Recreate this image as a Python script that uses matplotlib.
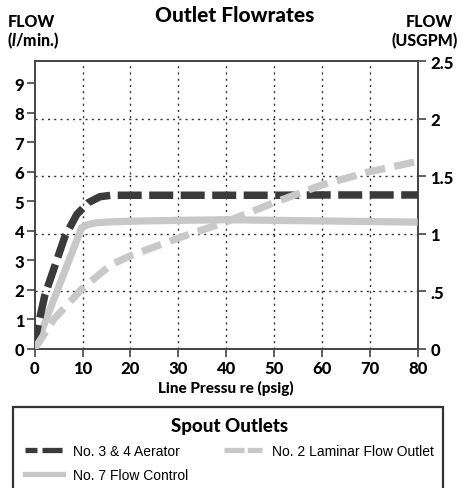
import matplotlib.pyplot as plt
from matplotlib.lines import Line2D
from matplotlib.patches import Rectangle

plt.rcParams['mathtext.fontset'] = 'custom'
plt.rcParams['mathtext.it'] = 'Lato:black:italic'

# line pressure (psig) vs flow (l/min)
aerator_x = [0, 0.4, 2.1, 4.2, 6.3, 8.8, 11.2, 13.6, 16, 20, 30, 40, 50, 60, 70, 80]
aerator_y = [0, 0.55, 1.8, 2.8, 3.8, 4.55, 4.95, 5.15, 5.2, 5.2, 5.2, 5.2, 5.2, 5.21, 5.21, 5.21]

control_x = [0, 9.8, 11, 12.9, 16, 20, 30, 40, 50, 60, 70, 80]
control_y = [0, 4.1, 4.2, 4.27, 4.3, 4.32, 4.35, 4.37, 4.35, 4.33, 4.31, 4.29]

laminar_x = [0, 4, 10, 16, 20, 30, 40, 50, 60, 70, 80]
laminar_y = [0, 1.0, 2.05, 2.85, 3.15, 3.75, 4.3, 4.95, 5.55, 6.0, 6.35]

x_ticks = [0, 10, 20, 30, 40, 50, 60, 70, 80]
lpm_ticks = [0, 1, 2, 3, 4, 5, 6, 7, 8, 9]
gpm_ticks = [0, 0.5, 1, 1.5, 2, 2.5]
gpm_labels = ['0', '.5', '1', '1.5', '2', '2.5']

W, H = 464, 489
dark = '#3a3a3a'
light = '#c8c8c8'
spine_c = '#444444'
bold = {'family': 'Lato', 'weight': 'black'}

fig = plt.figure(figsize=(W / 100, H / 100), dpi=100)
ax = fig.add_axes([34.7 / W, 1 - 349.7 / H, 383 / W, 287.7 / H])
ax2 = ax.twinx()
ax.set_zorder(ax2.get_zorder() + 1)
ax.patch.set_visible(False)

ax.set_xlim(0, 80)
ax.set_ylim(0, 9.75)
ax2.set_ylim(0, 2.5)

dots = (0, (1.5, 3))
ax.set_xticks(x_ticks)
ax.set_yticks(lpm_ticks)
ax2.set_yticks(gpm_ticks)
ax2.set_yticklabels(gpm_labels)
for v in x_ticks[1:-1]:
    ax.axvline(v, color='#333333', lw=1, ls=dots, zorder=1)
for v in gpm_ticks[1:-1]:
    ax2.axhline(v, color='#333333', lw=1, ls=dots, zorder=1)

ax.plot(control_x, control_y, color=light, lw=5.2, solid_capstyle='butt', zorder=3)
ax.plot(aerator_x, aerator_y, color=dark, lw=5.4, dashes=(3.2, 1.0),
        dash_capstyle='butt', zorder=4)
ax.plot(laminar_x, laminar_y, color=light, lw=5.2, dashes=(2.8, 1.3),
        dash_capstyle='butt', zorder=5)

for a in (ax, ax2):
    for s in a.spines.values():
        s.set_color(spine_c)
        s.set_linewidth(1.2)

ax.tick_params(axis='both', direction='out', length=6, width=1.2, color=spine_c)
ax.tick_params(axis='y', pad=1.5)
ax.tick_params(axis='x', pad=2)
ax2.tick_params(axis='y', direction='out', length=6, width=1.2, color=spine_c, pad=3)
for lab in ax.get_xticklabels() + ax.get_yticklabels() + ax2.get_yticklabels():
    lab.set_fontfamily('Lato')
    lab.set_fontweight('black')
    lab.set_fontsize(12)

ax.set_xlabel('Line Pressu re (psig)', fontsize=11, labelpad=3, **bold)

fig.text(235 / W, 1 - 15 / H, 'Outlet Flowrates', ha='center', va='center', fontsize=15, **bold)
fig.text(8 / W, 1 - 22 / H, 'FLOW', ha='left', va='center', fontsize=11.5, **bold)
fig.text(7 / W, 1 - 41 / H, r'($\mathit{l}$/min.)', ha='left', va='center', fontsize=11.5, **bold)
fig.text(429 / W, 1 - 22 / H, 'FLOW', ha='center', va='center', fontsize=11.5, **bold)
fig.text(392 / W, 1 - 41 / H, '(USGPM)', ha='left', va='center', fontsize=11.5, **bold)

# legend box runs past the bottom edge
fig.patches.append(Rectangle((13 / W, -0.05), 430 / W, (489 - 408) / H + 0.05,
                             transform=fig.transFigure, fill=False,
                             edgecolor='#333333', lw=1.6))

handles = [
    Line2D([], [], color=dark, lw=3.8, linestyle=(1.53, (3.8, 0.95))),
    Line2D([], [], color=light, lw=3.8),
    Line2D([], [], color=light, lw=3.8, linestyle=(0, (3.8, 0.6))),
]
labels = ['No. 3 & 4 Aerator', 'No. 7 Flow Control', 'No. 2 Laminar Flow Outlet']
leg = fig.legend(handles, labels, ncol=2, loc='upper left',
                 bbox_to_anchor=(25 / W, 1 - 418 / H), frameon=False,
                 borderpad=0, borderaxespad=0, handlelength=2.75,
                 handletextpad=0.7, columnspacing=2.6, labelspacing=0.72,
                 prop={'family': 'Liberation Sans', 'size': 10},
                 title='Spout Outlets',
                 title_fontproperties={'family': 'Lato', 'weight': 'black', 'size': 13.5})

fig.savefig('out.png', dpi=100)
